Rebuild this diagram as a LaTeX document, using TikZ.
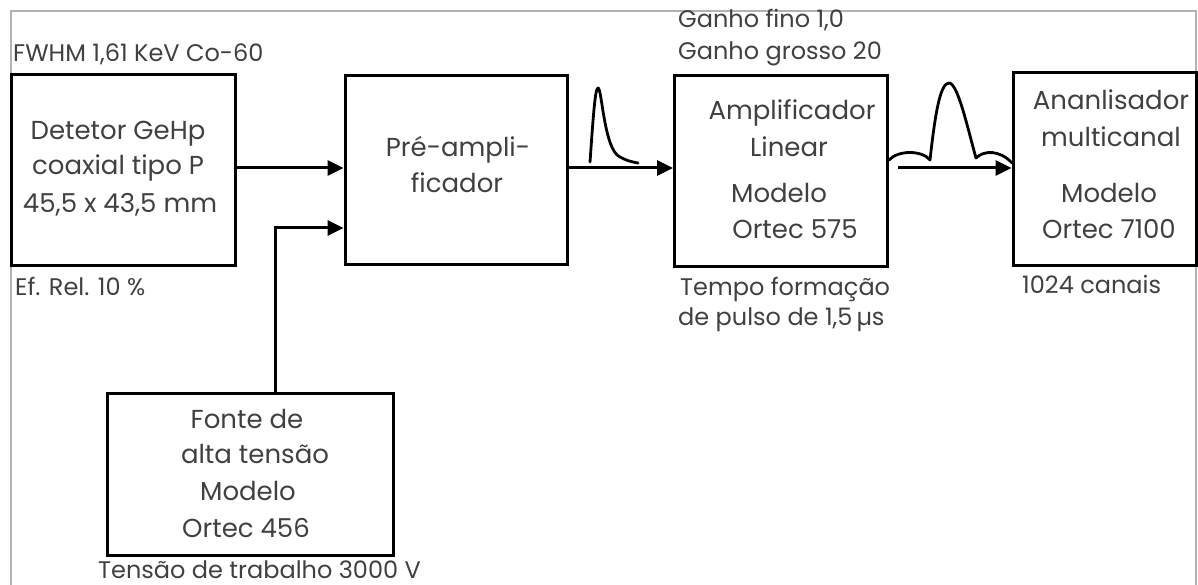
\documentclass[tikz,border=0pt]{standalone}
\usepackage{fontspec}
\setmainfont{Poppins}
\usetikzlibrary{arrows.meta}
\begin{document}
\begin{tikzpicture}[x=1pt,y=-1pt,
  box/.style={draw=black,line width=3pt,inner sep=0pt},
  btxt/.style={anchor=base,inner sep=0pt,text=black!75,font=\fontsize{26}{30}\selectfont},
  ann/.style={anchor=base west,inner sep=0pt,text=black!75,font=\fontsize{24}{28}\selectfont},
  arr/.style={line width=3pt,-{Triangle[length=16pt,width=15pt]}},
  pulse/.style={line width=2.8pt,line cap=round,line join=round}]
\useasboundingbox (0,0) rectangle (1198,585);
% frame
\draw[black!30,line width=1.5pt] (11,585) -- (11,11) -- (1196,11) -- (1196,585);
% boxes
\node[box,minimum width=224pt,minimum height=190pt] (det) at (123,170) {};
\node[box,minimum width=222pt,minimum height=188pt] (pre) at (456,170) {};
\node[box,minimum width=213pt,minimum height=190pt] (amp) at (781,171) {};
\node[box,minimum width=183pt,minimum height=192pt] (ana) at (1104.5,169) {};
\node[box,minimum width=286pt,minimum height=162pt] (fonte) at (250,474) {};
% box texts
\node[btxt] (d1) at (118,140) {Detetor GeHp};
\node[btxt] (d2) at (118,175) {coaxial tipo P};
\node[btxt] (d3) at (120,213) {45,5 x 43,5 mm};
\node[btxt] (p1) at (458,157) {Pré-ampli-};
\node[btxt] (p2) at (457,193) {ficador};
\node[btxt] (a1) at (792,120) {Amplificador};
\node[btxt] (a2) at (789,157) {Linear};
\node[btxt] (a3) at (779,203) {Modelo};
\node[btxt] (a4) at (795,238) {Ortec 575};
\node[btxt] (n1) at (1111,110) {Ananlisador};
\node[btxt] (n2) at (1111,147) {multicanal};
\node[btxt] (n3) at (1109,203) {Modelo};
\node[btxt] (n4) at (1109,238) {Ortec 7100};
\node[btxt] (f1) at (247,428) {Fonte de};
\node[btxt] (f2) at (255,463) {alta tensão};
\node[btxt] (f3) at (248,500) {Modelo};
\node[btxt] (f4) at (246,537) {Ortec 456};
% annotations
\node[ann] (t1) at (13,62) {FWHM 1,61 KeV Co-60};
\node[ann] (t2) at (15,295) {Ef. Rel. 10 \%};
\node[ann] (t3) at (678,28) {Ganho fino 1,0};
\node[ann] (t4) at (678,60) {Ganho grosso 20};
\node[ann] (t5) at (680,295) {Tempo formação};
\node[ann] (t6) at (678,325) {de pulso de 1,5\,µs};
\node[ann] (t7) at (1022,293) {1024 canais};
\node[ann,text depth=0pt] (t8) at (98,578) {Tensão de trabalho 3000 V};
% connectors
\coordinate (j) at (275,228);
\coordinate (s) at (898,168);
\draw[arr] (det.east |- 0,168) -- (pre.west |- 0,168);
\draw[arr] (fonte.north -| j) -- (j) -- (j -| pre.west);
\draw[arr] (pre.east |- 0,168) -- (amp.west |- 0,168);
\draw[arr] (s) -- (s -| ana.west);
% pulses
\draw[pulse] (590,162) .. controls (593,120) and (595,88) .. (598,88)
  .. controls (602,88) and (604,150) .. (620,157) .. controls (628,161) .. (638,163);
\draw[pulse] (amp.east |- 0,160) .. controls (898,150) and (922,150) .. (930,160)
  .. controls (935,115) and (940,83) .. (949,83)
  .. controls (958,83) and (968,130) .. (976,158)
  .. controls (984,150) and (1000,150) .. (1012,163);
\end{tikzpicture}
\end{document}
